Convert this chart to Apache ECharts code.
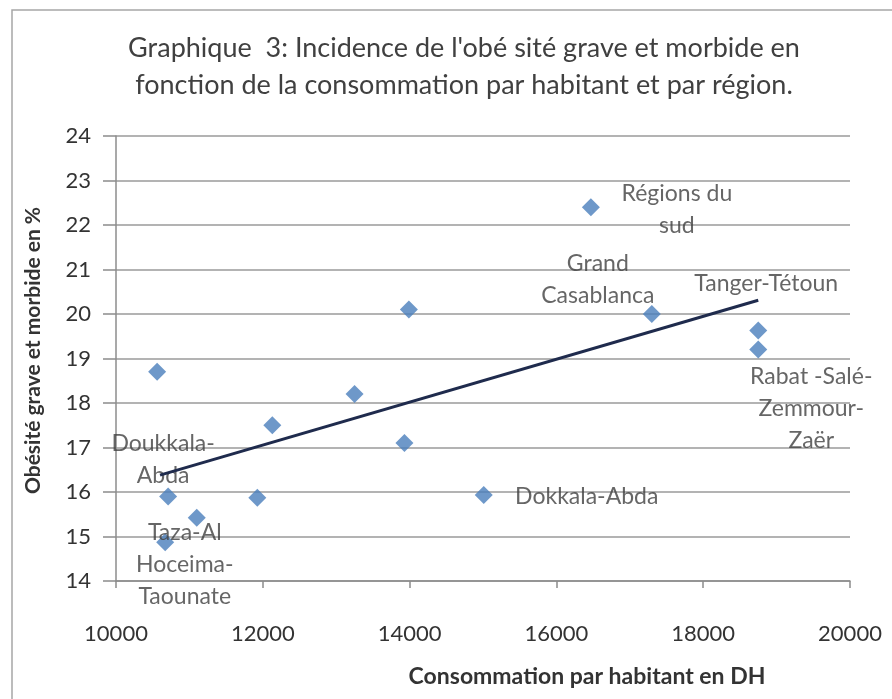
<!DOCTYPE html>
<html>
<head>
<meta charset="utf-8">
<script src="https://cdn.jsdelivr.net/npm/echarts@6/dist/echarts.min.js"></script>
<style>
  html, body { margin: 0; padding: 0; background: #fff; }
  #chart { width: 892px; height: 699px; }
</style>
</head>
<body>
<div id="chart"></div>
<script>
// consommation par habitant (DH) et incidence (%)
const consommation = [10560, 13990, 13250, 12130, 13930, 10710, 11925, 15010, 11100, 10670, 16470, 17300, 18750, 18750];
const incidence = [18.7, 20.1, 18.2, 17.5, 17.1, 15.9, 15.87, 15.93, 15.42, 14.87, 22.4, 20.0, 19.63, 19.2];
const regions = ['', '', '', '', '', 'Doukkala-\nAbda', '', 'Dokkala-Abda', 'Taza-Al\nHoceima-\nTaounate', '',
  'Régions du\nsud', 'Grand\nCasablanca', 'Tanger-Tétoun', 'Rabat -Salé-\nZemmour-\nZaër'];
// courbe de tendance
const trendX = [10600, 18750];
const trendY = [16.38, 20.31];

// décalage du texte par rapport au point
const labelOffset = {
  'Doukkala-\nAbda': [-5, -37],
  'Dokkala-Abda': [103, 1],
  'Taza-Al\nHoceima-\nTaounate': [-12, 47],
  'Régions du\nsud': [86, 2],
  'Grand\nCasablanca': [-54, -34],
  'Tanger-Tétoun': [8, -47],
  'Rabat -Salé-\nZemmour-\nZaër': [53, 59]
};

const points = consommation.map((x, i) => {
  const p = { value: [x, incidence[i]] };
  const name = regions[i];
  if (name) {
    p.label = { show: true, formatter: name, position: 'inside', offset: labelOffset[name] };
  }
  return p;
});

const chart = echarts.init(document.getElementById('chart'));
const font = 'Lato';
const option = {
  backgroundColor: '#fff',
  animation: false,
  title: {
    text: "Graphique  3: Incidence de l'obé sité grave et morbide en\nfonction de la consommation par habitant et par région.",
    left: 459,
    textAlign: 'center',
    top: 25,
    textStyle: { fontFamily: font, fontSize: 27, fontWeight: 'normal', color: '#404040', lineHeight: 37 }
  },
  graphic: [{
    type: 'rect',
    shape: { x: 12, y: 10, width: 900, height: 720 },
    style: { fill: 'none', stroke: '#a6a6a6', lineWidth: 1.5 },
    silent: true
  }],
  grid: { left: 116, right: 42, top: 136, bottom: 118 },
  xAxis: {
    type: 'value',
    min: 10000, max: 20000, interval: 2000,
    name: 'Consommation par habitant en DH',
    nameLocation: 'middle',
    nameGap: 84,
    nameTextStyle: { fontFamily: font, fontSize: 23, fontWeight: 'bold', color: '#333', padding: [0, 0, 0, 208] },
    axisLine: { show: true, onZero: false, lineStyle: { color: '#8c8c8c', width: 1.5 } },
    axisTick: { show: true, length: 7, lineStyle: { color: '#8c8c8c', width: 1.5 } },
    axisLabel: { fontFamily: font, fontSize: 22, color: '#333', margin: 42, formatter: v => String(v) },
    splitLine: { show: false }
  },
  yAxis: {
    type: 'value',
    min: 14, max: 24, interval: 1,
    name: 'Obésité grave et morbide en %',
    nameLocation: 'middle',
    nameGap: 72,
    nameTextStyle: { fontFamily: font, fontSize: 21, fontWeight: 'bold', color: '#333', padding: [0, 0, 0, 16] },
    axisLine: { show: true, lineStyle: { color: '#8c8c8c', width: 1.5 } },
    axisTick: { show: true, length: 13, lineStyle: { color: '#8c8c8c', width: 1.5 } },
    axisLabel: { fontFamily: font, fontSize: 22, color: '#333', margin: 25 },
    splitLine: { show: true, lineStyle: { color: '#9a9a9a', width: 1.5 } }
  },
  series: [
    {
      type: 'scatter',
      symbol: 'diamond',
      symbolSize: 18,
      itemStyle: { color: '#4a7ebb' },
      label: { fontFamily: font, fontSize: 23, color: '#404040', lineHeight: 32, align: 'center' },
      data: points,
      z: 3
    },
    {
      type: 'line',
      data: trendX.map((x, i) => [x, trendY[i]]),
      symbol: 'none',
      lineStyle: { color: '#1f2b4d', width: 3 },
      z: 4
    }
  ]
};
chart.setOption(option);
</script>
</body>
</html>
